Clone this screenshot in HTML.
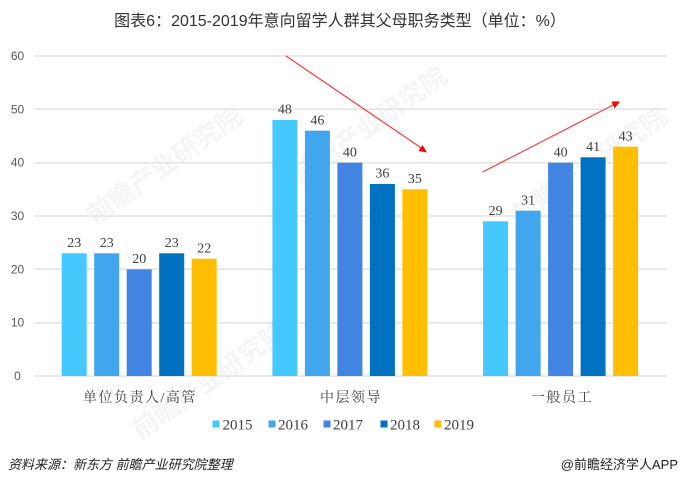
<!DOCTYPE html>
<html><head><meta charset="utf-8"><style>
html,body{margin:0;padding:0;background:#fff;}
svg{display:block;}
</style></head><body>
<svg width="680" height="482" viewBox="0 0 680 482" xmlns="http://www.w3.org/2000/svg">
<rect width="680" height="482" fill="#fff"/>
<!-- watermarks -->
<g fill="#f5f5f5" font-family="Liberation Sans, Noto Sans CJK SC, sans-serif" font-weight="bold">
<text x="95" y="225" font-size="26" transform="rotate(-35 95 225)">前瞻产业研究院</text>
<text x="300" y="185" font-size="26" transform="rotate(-35 300 185)">前瞻产业研究院</text>
<text x="520" y="225" font-size="26" transform="rotate(-35 520 225)">前瞻产业研究院</text>
<text x="140" y="440" font-size="26" transform="rotate(-35 140 440)">前瞻产业研究院</text>
</g>
<text x="340" y="26" text-anchor="middle" font-family="Liberation Sans, Noto Sans CJK SC, sans-serif" font-size="16" fill="#333">图表6：2015-2019年意向留学人群其父母职务类型（单位：%）</text>
<!-- gridlines -->
<g stroke="#e3e3e3" stroke-width="1.5">
<line x1="34" y1="56" x2="667" y2="56"/>
<line x1="34" y1="109.3" x2="667" y2="109.3"/>
<line x1="34" y1="162.7" x2="667" y2="162.7"/>
<line x1="34" y1="216" x2="667" y2="216"/>
<line x1="34" y1="269.3" x2="667" y2="269.3"/>
<line x1="34" y1="322.7" x2="667" y2="322.7"/>
<line x1="34" y1="376" x2="667" y2="376"/>
</g>
<g font-family="Liberation Sans, sans-serif" font-size="12" fill="#595959" text-anchor="middle">
<text x="17.5" y="60">60</text>
<text x="17.5" y="113.3">50</text>
<text x="17.5" y="166.7">40</text>
<text x="17.5" y="220">30</text>
<text x="17.5" y="273.3">20</text>
<text x="17.5" y="326.7">10</text>
<text x="17.5" y="380">0</text>
</g>
<!-- bars group 1 -->
<g>
<rect x="61.7" y="253.3" width="25" height="122.7" fill="#45C8FE"/>
<rect x="94.2" y="253.3" width="25" height="122.7" fill="#42A6EF"/>
<rect x="126.7" y="269.3" width="25" height="106.7" fill="#4184E1"/>
<rect x="159.2" y="253.3" width="25" height="122.7" fill="#0070C0"/>
<rect x="191.7" y="258.7" width="25" height="117.3" fill="#FFBF00"/>
</g>
<g>
<rect x="272.4" y="120" width="25" height="256" fill="#45C8FE"/>
<rect x="304.9" y="130.7" width="25" height="245.3" fill="#42A6EF"/>
<rect x="337.4" y="162.7" width="25" height="213.3" fill="#4184E1"/>
<rect x="369.9" y="184" width="25" height="192" fill="#0070C0"/>
<rect x="402.4" y="189.3" width="25" height="186.7" fill="#FFBF00"/>
</g>
<g>
<rect x="483.1" y="221.3" width="25" height="154.7" fill="#45C8FE"/>
<rect x="515.6" y="210.7" width="25" height="165.3" fill="#42A6EF"/>
<rect x="548.1" y="162.7" width="25" height="213.3" fill="#4184E1"/>
<rect x="580.6" y="157.3" width="25" height="218.7" fill="#0070C0"/>
<rect x="613.1" y="146.7" width="25" height="229.3" fill="#FFBF00"/>
</g>
<!-- value labels -->
<g font-family="Liberation Serif, serif" font-size="14" fill="#404040" text-anchor="middle">
<text x="74.2" y="247">23</text>
<text x="106.7" y="247">23</text>
<text x="139.2" y="263">20</text>
<text x="171.7" y="247">23</text>
<text x="204.2" y="252.5">22</text>
<text x="284.9" y="113.5">48</text>
<text x="317.4" y="124.5">46</text>
<text x="349.9" y="156.5">40</text>
<text x="382.4" y="177.5">36</text>
<text x="414.9" y="183">35</text>
<text x="495.6" y="215">29</text>
<text x="528.1" y="204.5">31</text>
<text x="560.6" y="156.5">40</text>
<text x="593.1" y="151">41</text>
<text x="625.6" y="140.5">43</text>
</g>
<!-- arrows -->
<g stroke="#FF3B3B" stroke-width="1.2" fill="none">
<line x1="285.7" y1="55.7" x2="422" y2="148.5"/>
<line x1="482.7" y1="172" x2="614" y2="104.5"/>
</g>
<polygon points="427,152.5 418.5,151 422.5,145" fill="#FF0000"/>
<polygon points="620,101.5 614.5,108.5 611.5,101.5" fill="#FF0000"/>
<!-- category labels -->
<g font-family="Liberation Serif, Noto Serif CJK SC, serif" font-size="14" fill="#404040" text-anchor="middle" letter-spacing="1.5">
<text x="140" y="402">单位负责人/高管</text>
<text x="351" y="402">中层领导</text>
<text x="562" y="402">一般员工</text>
</g>
<!-- legend -->
<g>
<rect x="212.5" y="420.5" width="7" height="7" fill="#45C8FE"/>
<rect x="268.5" y="420.5" width="7" height="7" fill="#42A6EF"/>
<rect x="323.5" y="420.5" width="7" height="7" fill="#4184E1"/>
<rect x="380.5" y="420.5" width="7" height="7" fill="#0070C0"/>
<rect x="434.5" y="420.5" width="7" height="7" fill="#FFBF00"/>
</g>
<g font-family="Liberation Serif, serif" font-size="15" fill="#404040">
<text x="222.5" y="429.5">2015</text>
<text x="278" y="429.5">2016</text>
<text x="333" y="429.5">2017</text>
<text x="390" y="429.5">2018</text>
<text x="444" y="429.5">2019</text>
</g>
<!-- footer -->
<text x="8" y="469" font-family="Liberation Sans, Noto Sans CJK SC, sans-serif" font-size="13" font-style="italic" fill="#222">资料来源：新东方 前瞻产业研究院整理</text>
<text x="678" y="469" text-anchor="end" font-family="Liberation Sans, Noto Sans CJK SC, sans-serif" font-size="13" fill="#222">@前瞻经济学人APP</text>
</svg>
</body></html>
